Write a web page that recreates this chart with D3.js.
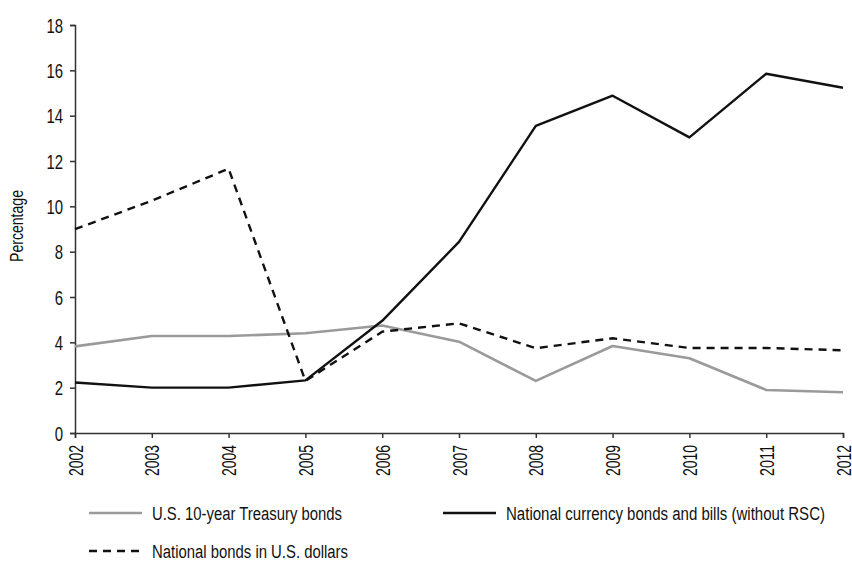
<!DOCTYPE html>
<html>
<head>
<meta charset="utf-8">
<script src="https://cdn.jsdelivr.net/npm/d3@7"></script>
<style>
  html, body { margin: 0; padding: 0; background: #fff; }
  svg { display: block; }
  text { font-family: "Liberation Sans", Arial, sans-serif; fill: #111; }
</style>
</head>
<body>
<svg id="chart" width="852" height="563"></svg>
<script>
const years = [2002, 2003, 2004, 2005, 2006, 2007, 2008, 2009, 2010, 2011, 2012];
const treasury = [3.82, 4.28, 4.28, 4.4, 4.74, 4.03, 2.3, 3.84, 3.3, 1.9, 1.8];
const nationalCurrency = [2.23, 2.0, 2.0, 2.32, 4.95, 8.43, 13.55, 14.88, 13.04, 15.85, 15.23];
const nationalUSD = [8.99, 10.25, 11.66, 2.3, 4.47, 4.84, 3.74, 4.18, 3.75, 3.75, 3.65];
const yTicks = [0, 2, 4, 6, 8, 10, 12, 14, 16, 18];
const yLabel = "Percentage";
const legendLabels = ["U.S. 10-year Treasury bonds", "National currency bonds and bills (without RSC)", "National bonds in U.S. dollars"];

const svg = d3.select("#chart");
const x = d3.scalePoint().domain(years).range([75, 843]);
const y = d3.scaleLinear().domain([0, 18]).range([433, 25]);

const axisColor = "#333";

// Y axis
const gy = svg.append("g").attr("transform", "translate(75,0)")
  .call(d3.axisLeft(y).tickValues(yTicks).tickSize(5).tickPadding(7).tickFormat(d3.format("d")));
gy.select(".domain").attr("stroke", axisColor).attr("stroke-width", 1.5);
gy.selectAll(".tick line").attr("stroke", axisColor).attr("stroke-width", 1.5);
gy.selectAll(".tick text").attr("font-size", 20).attr("fill", "#111")
  .attr("font-family", "Liberation Sans, Arial, sans-serif")
  .attr("dy", "0.36em")
  .attr("textLength", d => String(d).length * 8.3)
  .attr("lengthAdjust", "spacingAndGlyphs");

// X axis
const gx = svg.append("g").attr("transform", "translate(0,433)")
  .call(d3.axisBottom(x).tickSize(5).tickFormat(d3.format("d")));
gx.select(".domain").attr("stroke", axisColor).attr("stroke-width", 1.5);
gx.selectAll(".tick line").attr("stroke", axisColor).attr("stroke-width", 1.5);
gx.selectAll(".tick text")
  .attr("font-size", 20).attr("fill", "#111")
  .attr("font-family", "Liberation Sans, Arial, sans-serif")
  .attr("text-anchor", "end")
  .attr("dy", null).attr("y", null)
  .attr("transform", "translate(7,12) rotate(-90)")
  .attr("textLength", 31).attr("lengthAdjust", "spacingAndGlyphs");

// Y label
svg.append("text")
  .attr("transform", "translate(23,226) rotate(-90)")
  .attr("text-anchor", "middle")
  .attr("font-size", 18)
  .attr("textLength", 72).attr("lengthAdjust", "spacingAndGlyphs")
  .text(yLabel);

const line = d3.line().x((d, i) => x(years[i])).y(d => y(d));

svg.append("path").datum(treasury)
  .attr("d", line).attr("fill", "none")
  .attr("stroke", "#9a9a9a").attr("stroke-width", 2.6).attr("stroke-linejoin", "round");

svg.append("path").datum(nationalUSD)
  .attr("d", line).attr("fill", "none")
  .attr("stroke", "#111").attr("stroke-width", 2.4).attr("stroke-dasharray", "8,6");

svg.append("path").datum(nationalCurrency)
  .attr("d", line).attr("fill", "none")
  .attr("stroke", "#111").attr("stroke-width", 2.4).attr("stroke-linejoin", "round");

// Legend
const legend = [
  { label: legendLabels[0], x: 89, y: 513, color: "#9a9a9a", dash: null, w: 190 },
  { label: legendLabels[1], x: 443, y: 513, color: "#111", dash: null, w: 319 },
  { label: legendLabels[2], x: 89, y: 551, color: "#111", dash: "8,6", w: 196 }
];
const lg = svg.append("g");
legend.forEach(d => {
  lg.append("line")
    .attr("x1", d.x).attr("x2", d.x + 53)
    .attr("y1", d.y).attr("y2", d.y)
    .attr("stroke", d.color).attr("stroke-width", 2.4)
    .attr("stroke-dasharray", d.dash);
  lg.append("text")
    .attr("x", d.x + 63).attr("y", d.y + 7)
    .attr("font-size", 18)
    .attr("textLength", d.w).attr("lengthAdjust", "spacingAndGlyphs")
    .text(d.label);
});
</script>
</body>
</html>
